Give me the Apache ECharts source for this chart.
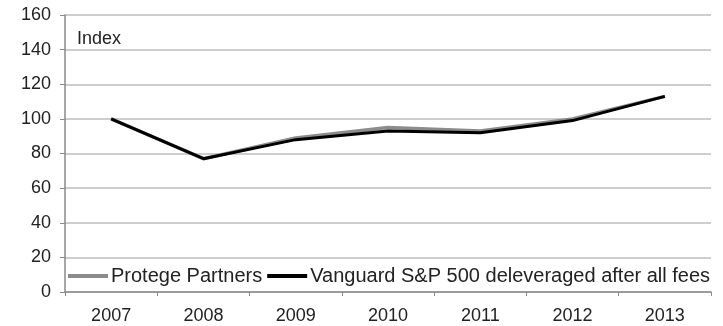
<!DOCTYPE html>
<html>
<head>
<meta charset="UTF-8">
<title>Index chart</title>
<script src="https://cdn.jsdelivr.net/npm/echarts@6/dist/echarts.min.js"></script>
<style>
  html, body { margin: 0; padding: 0; background: #fff; }
  #main { width: 723px; height: 326px; }
</style>
</head>
<body>
<div id="main"></div>
<script type="text/javascript">
// data
var years = ['2007', '2008', '2009', '2010', '2011', '2012', '2013'];
var protege = [100, 77, 89, 95, 93, 100, 113];
var vanguard = [100, 77, 88, 93, 92, 99, 113];
var seriesNames = ['Protege Partners', 'Vanguard S&P 500 deleveraged after all fees'];

var font = 'Liberation Sans, Arial, sans-serif';
var myChart = echarts.init(document.getElementById('main'));

var option = {
    animation: false,
    grid: { left: 65, right: 12, top: 15, bottom: 34 },
    graphic: [{
        type: 'text', left: 77, top: 30,
        style: { text: 'Index', fontSize: 18, fontFamily: font, fill: '#222' }
    }],
    legend: {
        left: 63, top: 261,
        icon: 'rect', itemWidth: 40, itemHeight: 4, itemGap: 5,
        textStyle: { fontSize: 20, fontFamily: font, color: '#222', padding: [0, 0, 0, -2] },
        data: seriesNames
    },
    xAxis: {
        type: 'category',
        data: years,
        boundaryGap: true,
        axisLine: { lineStyle: { color: '#8a8a8a', width: 1.5 } },
        axisTick: { show: true, length: 4, lineStyle: { color: '#8a8a8a' } },
        axisLabel: { fontSize: 18, fontFamily: font, color: '#222', margin: 15 }
    },
    yAxis: {
        type: 'value',
        min: 0, max: 160, interval: 20,
        axisLine: { show: true, lineStyle: { color: '#8a8a8a', width: 1.5 } },
        axisTick: { show: true, length: 5, lineStyle: { color: '#8a8a8a' } },
        axisLabel: { fontSize: 18, fontFamily: font, color: '#222', margin: 14 },
        splitLine: { lineStyle: { color: '#bdbdbd', width: 1.5 } }
    },
    series: [
        {
            name: seriesNames[0], type: 'line', data: protege,
            symbol: 'none', itemStyle: { color: '#8c8c8c' },
            lineStyle: { color: '#8c8c8c', width: 3.5 }
        },
        {
            name: seriesNames[1], type: 'line', data: vanguard,
            symbol: 'none', itemStyle: { color: '#000' },
            lineStyle: { color: '#000', width: 3 }
        }
    ]
};

myChart.setOption(option);
</script>
</body>
</html>
